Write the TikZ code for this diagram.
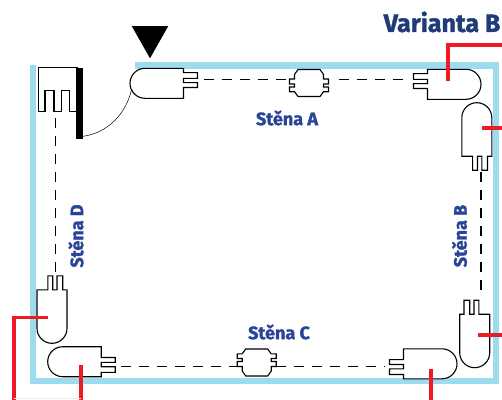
\documentclass[tikz,border=0pt]{standalone}
\usepackage{fontspec}
\setmainfont{Fira Sans}[BoldFeatures={FakeBold=1.5}]
\usepackage{xcolor}
\definecolor{wallblue}{HTML}{9CDCEE}
\definecolor{titleblue}{HTML}{1F3C78}
\definecolor{labelblue}{HTML}{2A4597}
\definecolor{wirered}{HTML}{ED1C24}
\begin{document}
\begin{tikzpicture}[
    x = 1pt,
    y = -1pt,
    wall/.style={line width=6.3pt, wallblue},
    outline/.style={line width=1.1pt, black, fill=white},
    wire/.style={line width=3.4pt, wirered},
    cable/.style={line width=1.3pt, dash pattern=on 10pt off 8pt},
    walllabel/.style={font=\bfseries\fontsize{18}{20}\selectfont, text=labelblue, inner sep=0pt},
    lamp/.pic={
        \draw[outline] (53.5,-15) -- (15,-15) .. controls (6.7,-15) and (0,-8.3) .. (0,0)
            .. controls (0,8.3) and (6.7,15) .. (15,15) -- (53.5,15)
            -- (53.5,4.2) -- (67.5,4.2) -- (67.5,-0.7) -- (53.5,-0.7) -- (53.5,-5)
            -- (67.5,-5) -- (67.5,-10.7) -- (53.5,-10.7) -- cycle;
    },
    joint/.pic={
        \draw[outline] (-11,-13.5) -- (11,-13.5) -- (14.5,-8.5) -- (14.5,-4)
            -- (19.5,-4) -- (19.5,1) -- (14.5,1) -- (14.5,4) -- (19.5,4) -- (19.5,8.7) -- (14.5,8.7)
            -- (11,13.5) -- (-11,13.5) -- (-14.5,8.7) -- (-19.5,8.7) -- (-19.5,4) -- (-14.5,4) -- (-14.5,1)
            -- (-19.5,1) -- (-19.5,-4) -- (-14.5,-4) -- (-14.5,-8.5) -- cycle;
    }
]
    \useasboundingbox (0,0) rectangle (502,399);

    % walls
    \draw[wall] (135,65.5) -- (495.7,65.5) -- (495.7,381) -- (33.3,381) -- (33.3,65);

    % door
    \draw[outline] (38.3,67.3) -- (77.3,67.3) -- (77.3,111.7) -- (69.3,111.7) -- (69.3,90.7) -- (61.7,90.7)
        -- (61.7,111.7) -- (54,111.7) -- (54,90.7) -- (45,90.7) -- (45,111.7) -- (38.3,111.7) -- cycle;
    \fill (76,67.5) rectangle (83,139);
    \coordinate (hinge) at (83,136.3);
    \coordinate (swing) at (132,87.5);
    \draw[line width=0.5pt] (hinge) .. controls (108,133) and (127,113) .. (swing);
    \fill (131.7,26) -- (168.3,26) -- (150,58.3) -- cycle;

    % lamps
    \pic at (130,83.3) {lamp};
    \pic[xscale=-1] at (481,84.3) {lamp};
    \pic[rotate=-90] at (476.8,102.7) {lamp};
    \pic[rotate=90] at (474.7,367.7) {lamp};
    \pic[xscale=-1,yscale=-1] at (457,363.8) {lamp};
    \pic[yscale=-1] at (47.7,361.7) {lamp};
    \pic[rotate=90,yscale=-1] at (52,343.3) {lamp};

    % joints
    \pic at (309,83) {joint};
    \pic[yscale=-1] at (256.7,362.5) {joint};

    % cables
    \coordinate (a1) at (203.5,79.7);
    \coordinate (a2) at (289.5,79.7);
    \coordinate (a3) at (338.5,79.7);
    \coordinate (a4) at (408,79.7);
    \coordinate (b1) at (481,172);
    \coordinate (b2) at (481,294);
    \coordinate (c1) at (121,366.7);
    \coordinate (c2) at (237,366.7);
    \coordinate (c3) at (276,366.7);
    \coordinate (c4) at (385,366.7);
    \coordinate (d1) at (55.7,118);
    \coordinate (d2) at (55.7,276);
    \draw[cable] (a1) -- (a2);
    \draw[cable] (a3) -- (a4);
    \draw[cable] (b1) -- (b2);
    \draw[cable] (c1) -- (c2);
    \draw[cable] (c3) -- (c4);
    \draw[cable] (d1) -- (d2);

    % red wires
    \coordinate (w1) at (448,81);
    \coordinate (w1top) at (448,45);
    \coordinate (w1end) at (503,45);
    \coordinate (w2) at (482,128);
    \coordinate (w2end) at (503,128);
    \coordinate (w3) at (478,335);
    \coordinate (w3end) at (503,335);
    \coordinate (w4) at (431,369);
    \coordinate (w4end) at (431,400);
    \coordinate (w5) at (81,365);
    \coordinate (w5end) at (81,400);
    \coordinate (w6) at (47.5,317.5);
    \coordinate (w6mid) at (14,317.5);
    \coordinate (w6end) at (14,400);
    \draw[wire] (w1) -- (w1top) -- (w1end);
    \draw[wire] (w2) -- (w2end);
    \draw[wire] (w3) -- (w3end);
    \draw[wire] (w4) -- (w4end);
    \draw[wire] (w5) -- (w5end);
    \draw[wire] (w6) -- (w6mid) -- (w6end);
    \draw[wirered!12, line width=1pt] (w6end |- 0,398.6) -- (w5end |- 0,398.6);

    % labels
    \node[font=\bfseries\fontsize{25}{28}\selectfont, text=titleblue, inner sep=0pt, anchor=east] (variant) at (500.5,22) {Varianta B};
    \node[walllabel] (wallA) at (287,118) {Stěna A};
    \node[walllabel, rotate=90] (wallB) at (459.5,236) {Stěna B};
    \node[walllabel] (wallC) at (279,332) {Stěna C};
    \node[walllabel, rotate=90] (wallD) at (76,236) {Stěna D};
\end{tikzpicture}
\end{document}
